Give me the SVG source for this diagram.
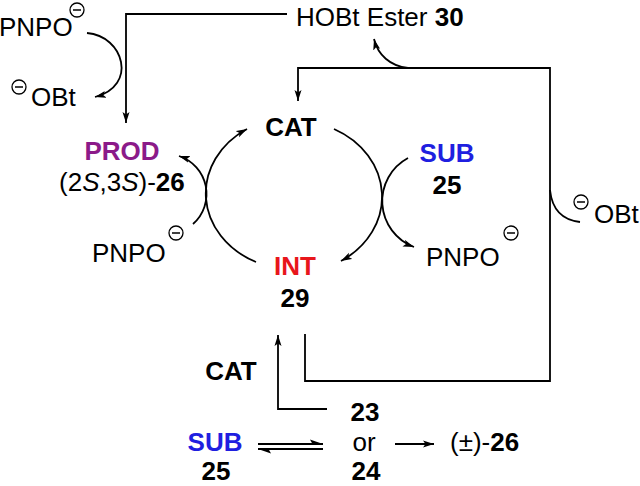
<svg xmlns="http://www.w3.org/2000/svg" xmlns:xlink="http://www.w3.org/1999/xlink" width="640" height="486" viewBox="0 0 640 486">
<style>
text{font-family:"Liberation Sans",Arial,sans-serif;font-size:26px;fill:#000}
.b{font-weight:bold}
.m{text-anchor:middle}
.prod{fill:#8B1A89}
.sub{fill:#1F1FE0}
.int{fill:#E8161B}
.ln{fill:none;stroke:#000;stroke-width:1.8}
.ar{marker-end:url(#ah)}
</style>
<defs>
<marker id="ah" markerUnits="userSpaceOnUse" markerWidth="12" markerHeight="9" refX="11" refY="4" orient="auto">
<path d="M0,0.5 L11,4 L0,7.5 L2.5,4 Z" fill="#000"/>
</marker>
<g id="neg"><circle r="7" fill="none" stroke="#000" stroke-width="1.3"/><line x1="-4" y1="0" x2="4" y2="0" stroke="#000" stroke-width="1.5"/></g>
</defs>
<rect width="640" height="486" fill="#fff"/>
<g id="connectors">
<path class="ln ar" d="M287,14 H126 V123"/>
<path class="ln ar" d="M87,33 C124,36 138,86 95,97"/>
<path class="ln ar" d="M305,334 V381 H550 V68 H298 V101"/>
<path class="ln ar" d="M408,68 C390,66 378,55 374,39"/>
<path class="ln" d="M550,190 Q553,219 580,222"/>
<path class="ln ar" d="M327,409 H278 V335"/>
<path class="ln" d="M258,444 H323"/>
<path d="M323,444 L310,439.5 L312.5,444 Z" fill="#000"/>
<path class="ln" d="M258,449 H323"/>
<path d="M258,449 L271,453.5 L268.5,449 Z" fill="#000"/>
<path class="ln ar" d="M395,444 H434"/>
<path class="ln ar" d="M256,262 A88,76 0 0 1 247,129"/>
<path class="ln ar" d="M334,129 A88,76 0 0 1 341,261"/>
<path class="ln ar" d="M193,224 A40,40 0 0 0 179,156"/>
<path class="ln ar" d="M408,158 A49,49 0 0 0 414,247"/>
</g>
<g id="pnpo-top"><text x="-1" y="36">PNPO</text><use xlink:href="#neg" x="77" y="10"/></g>
<g id="obt-left"><use xlink:href="#neg" x="19" y="87"/><text x="31" y="106">OBt</text></g>
<g id="hobt-ester"><text x="296" y="26">HOBt Ester <tspan class="b">30</tspan></text></g>
<g id="cat-cycle"><text class="b m" x="291" y="136">CAT</text></g>
<g id="prod"><text class="b m prod" x="122" y="160">PROD</text><text x="59" y="191">(2<tspan font-style="italic">S</tspan>,3<tspan font-style="italic">S</tspan>)-<tspan class="b">26</tspan></text></g>
<g id="sub-cycle"><text class="b m sub" x="447" y="162">SUB</text><text class="b m" x="447" y="194">25</text></g>
<g id="pnpo-right"><text x="426" y="266">PNPO</text><use xlink:href="#neg" x="511" y="233"/></g>
<g id="obt-right"><use xlink:href="#neg" x="581" y="202"/><text x="594" y="223">OBt</text></g>
<g id="pnpo-left"><text x="92" y="262">PNPO</text><use xlink:href="#neg" x="176" y="233"/></g>
<g id="int"><text class="b m int" x="295" y="275">INT</text><text class="b m" x="295" y="307">29</text></g>
<g id="cat-bottom"><text class="b m" x="231" y="380">CAT</text></g>
<g id="cmp-23-24"><text class="b m" x="365" y="421">23</text><text class="m" x="364" y="451">or</text><text class="b m" x="366" y="480">24</text></g>
<g id="sub-bottom"><text class="b m sub" x="215" y="451">SUB</text><text class="b m" x="216" y="480">25</text></g>
<g id="racemic"><text x="450" y="451">(±)-<tspan class="b">26</tspan></text></g>
</svg>
